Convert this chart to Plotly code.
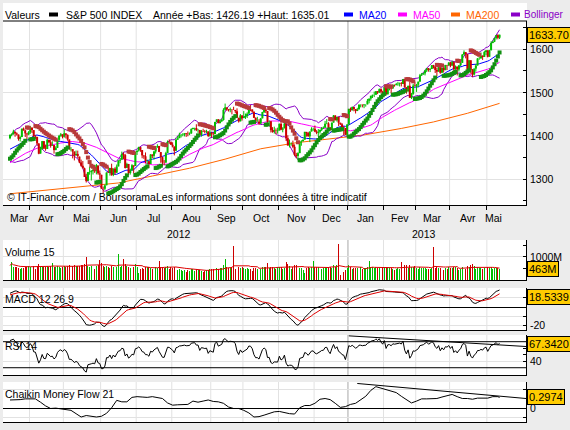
import pandas as pd
import numpy as np
import plotly.graph_objects as go

# ---------------------------------------------------------------- data
HOLIDAYS = ["2011-12-26", "2012-01-02", "2012-01-16", "2012-02-20", "2012-04-06",
            "2012-05-28", "2012-07-04", "2012-09-03", "2012-10-29", "2012-10-30",
            "2012-11-22", "2012-12-25", "2013-01-01", "2013-01-21", "2013-02-18",
            "2013-03-29"]
WARMUP_START = "2011-12-15"
DISPLAY_START = "2012-03-15"
LAST_DAY = "2013-05-10"

# closes before the displayed window (used only for the moving averages / MACD / RSI)
close_warmup = [
    1215.8, 1219.7, 1205.4, 1241.3, 1243.7, 1254.0, 1265.3, 1265.4, 1249.6, 1263.0, 1257.6,
    1277.1, 1277.3, 1281.1, 1277.8, 1280.7, 1292.1, 1292.5, 1295.5, 1289.1, 1293.7, 1308.0,
    1314.5, 1315.4, 1316.0, 1314.7, 1326.1, 1318.4, 1316.3, 1313.0, 1312.4,
    1324.1, 1325.5, 1344.9, 1344.3, 1347.1, 1350.0, 1352.0, 1342.6, 1351.8, 1350.5, 1343.2,
    1358.0, 1361.2, 1362.2, 1357.7, 1363.5, 1365.7, 1367.6, 1372.2, 1365.7,
    1374.1, 1369.6, 1364.3, 1343.4, 1352.6, 1365.9, 1370.9, 1371.1, 1396.0, 1394.3]

close = [
    # Mar 2012
    1402.6, 1404.2, 1409.8, 1405.5, 1402.9, 1392.8, 1397.1, 1416.5, 1412.5, 1405.5, 1403.3, 1408.5,
    # Apr
    1419.0, 1413.4, 1399.0, 1398.1, 1382.2, 1358.6, 1368.7, 1387.6, 1370.3, 1369.6, 1390.8, 1385.1,
    1376.9, 1378.5, 1366.9, 1372.0, 1390.7, 1400.0, 1403.4, 1397.9,
    # May
    1405.8, 1402.3, 1391.6, 1369.1, 1369.6, 1363.7, 1354.6, 1358.0, 1353.4, 1338.4, 1330.7, 1324.8,
    1304.9, 1295.2, 1316.0, 1316.6, 1318.9, 1320.7, 1317.8, 1332.4, 1313.3, 1310.3,
    # Jun
    1278.0, 1278.2, 1285.5, 1315.1, 1315.0, 1325.7, 1308.9, 1324.2, 1314.9, 1329.1, 1342.8, 1344.8,
    1358.0, 1355.7, 1325.5, 1335.0, 1313.7, 1320.0, 1331.9, 1329.0, 1362.2,
    # Jul
    1365.5, 1374.0, 1367.6, 1354.7, 1352.5, 1341.5, 1341.5, 1334.8, 1356.8, 1353.6, 1363.7, 1372.8,
    1376.5, 1362.7, 1350.5, 1338.3, 1337.9, 1360.0, 1386.0, 1385.3, 1379.3,
    # Aug
    1375.3, 1365.0, 1391.0, 1394.2, 1401.4, 1402.2, 1402.8, 1405.9, 1404.1, 1403.9, 1405.5, 1415.5,
    1418.2, 1418.1, 1413.2, 1413.5, 1402.1, 1411.1, 1410.4, 1409.3, 1410.5, 1399.5, 1406.6,
    # Sep
    1404.9, 1403.4, 1432.1, 1437.9, 1429.1, 1433.6, 1436.6, 1460.0, 1465.8, 1461.2, 1459.3, 1461.1,
    1460.3, 1460.2, 1456.9, 1441.6, 1433.3, 1447.2, 1440.7,
    # Oct
    1444.5, 1445.8, 1451.0, 1461.4, 1460.9, 1455.9, 1441.5, 1432.6, 1432.8, 1428.6, 1440.1, 1454.9,
    1460.9, 1457.3, 1433.2, 1433.8, 1413.1, 1408.8, 1413.0, 1411.9, 1412.2,
    # Nov
    1427.6, 1414.2, 1417.3, 1428.4, 1394.5, 1377.5, 1379.9, 1380.0, 1374.5, 1355.5, 1353.3, 1359.9,
    1386.9, 1387.8, 1391.0, 1409.2, 1406.3, 1398.9, 1409.9, 1416.0, 1416.2,
    # Dec
    1409.5, 1407.1, 1409.3, 1413.9, 1418.1, 1418.6, 1427.8, 1428.5, 1419.5, 1413.6, 1430.4, 1446.8,
    1435.8, 1443.7, 1430.2, 1426.7, 1419.8, 1418.1, 1402.4, 1426.2,
    # Jan 2013
    1462.4, 1459.4, 1466.5, 1461.9, 1457.2, 1461.0, 1472.1, 1472.1, 1470.7, 1472.3, 1472.6, 1480.9,
    1486.0, 1492.6, 1494.8, 1494.8, 1503.0, 1500.2, 1507.8, 1502.0, 1498.1,
    # Feb
    1513.2, 1495.7, 1511.3, 1512.1, 1509.4, 1517.9, 1517.0, 1519.4, 1520.3, 1521.4, 1519.8, 1530.9,
    1512.0, 1502.4, 1515.6, 1487.9, 1496.9, 1516.0, 1514.7,
    # Mar
    1518.2, 1525.2, 1539.8, 1541.5, 1544.3, 1551.2, 1556.2, 1552.5, 1554.5, 1563.2, 1560.7, 1552.1,
    1548.3, 1558.7, 1545.8, 1556.9, 1551.7, 1563.8, 1562.9, 1569.2,
    # Apr
    1562.2, 1570.3, 1553.7, 1560.0, 1553.3, 1563.1, 1568.6, 1587.7, 1593.4, 1588.9, 1552.4, 1574.6,
    1552.0, 1541.6, 1555.3, 1562.5, 1578.8, 1578.8, 1585.2, 1582.2, 1593.6, 1597.6,
    # May
    1582.7, 1597.6, 1614.4, 1617.5, 1626.0, 1632.7, 1626.7, 1633.7]

open_ = [
    1394.3, 1402.6, 1404.2, 1409.6, 1405.5, 1402.9, 1392.8, 1397.1, 1416.6, 1412.5, 1405.4, 1403.3,
    1408.5, 1419.0, 1413.1, 1399.0, 1397.5, 1382.2, 1358.9, 1368.8, 1387.6, 1370.3, 1369.6, 1390.8,
    1385.1, 1376.9, 1378.5, 1366.9, 1372.1, 1390.6, 1400.2, 1403.3,
    1397.9, 1405.5, 1402.3, 1391.5, 1368.8, 1369.2, 1363.7, 1354.6, 1358.1, 1351.9, 1338.4, 1330.8,
    1324.8, 1305.1, 1295.7, 1316.0, 1316.0, 1318.7, 1320.7, 1318.9, 1331.3, 1313.1,
    1309.9, 1278.3, 1277.6, 1285.6, 1316.2, 1314.6, 1325.7, 1309.4, 1324.0, 1314.9, 1329.2, 1342.4,
    1344.8, 1357.9, 1355.4, 1325.9, 1334.9, 1314.1, 1320.0, 1331.5, 1330.1,
    1362.3, 1365.8, 1373.7, 1367.1, 1354.7, 1352.6, 1341.4, 1341.3, 1334.8, 1356.5, 1353.7, 1363.7,
    1373.0, 1376.5, 1362.3, 1350.5, 1338.4, 1338.0, 1360.1, 1385.9, 1385.3,
    1379.3, 1375.1, 1365.5, 1391.0, 1394.5, 1401.4, 1402.3, 1402.6, 1405.9, 1404.4, 1403.9, 1405.8,
    1415.8, 1418.1, 1418.1, 1413.1, 1413.5, 1401.9, 1411.1, 1410.4, 1409.3, 1410.1, 1400.1,
    1406.5, 1404.9, 1403.7, 1432.1, 1437.9, 1429.1, 1433.6, 1436.6, 1460.1, 1465.4, 1461.2, 1459.5,
    1461.1, 1460.3, 1459.8, 1457.0, 1441.6, 1433.4, 1447.1,
    1440.9, 1444.0, 1446.0, 1451.1, 1461.4, 1460.9, 1455.9, 1441.5, 1432.8, 1432.8, 1428.8, 1440.3,
    1454.2, 1460.9, 1457.3, 1433.2, 1433.7, 1413.2, 1409.7, 1412.6, 1410.9,
    1412.2, 1427.6, 1414.0, 1417.3, 1428.3, 1394.5, 1377.6, 1379.9, 1380.0, 1374.6, 1355.4, 1353.4,
    1359.9, 1386.8, 1387.8, 1391.0, 1409.0, 1406.3, 1398.8, 1410.0, 1416.0,
    1416.3, 1409.5, 1407.1, 1409.4, 1413.9, 1418.1, 1418.6, 1427.8, 1428.5, 1419.5, 1413.5, 1430.5,
    1446.8, 1435.8, 1443.7, 1430.2, 1426.7, 1419.8, 1418.1, 1402.4,
    1426.2, 1462.4, 1459.4, 1466.5, 1461.9, 1457.2, 1461.0, 1472.1, 1472.1, 1470.7, 1472.3, 1472.6,
    1480.9, 1486.0, 1492.6, 1494.8, 1494.8, 1503.0, 1500.2, 1507.8, 1502.0,
    1498.1, 1513.2, 1495.7, 1511.3, 1512.1, 1509.4, 1517.9, 1517.0, 1519.4, 1520.3, 1521.4, 1519.8,
    1530.9, 1512.0, 1502.4, 1515.6, 1487.9, 1496.9, 1516.0,
    1514.7, 1518.2, 1525.2, 1539.8, 1541.5, 1544.3, 1551.2, 1556.2, 1552.5, 1554.5, 1563.2, 1560.7,
    1552.1, 1548.3, 1558.7, 1545.8, 1556.9, 1551.7, 1563.8, 1562.9,
    1569.2, 1562.2, 1570.3, 1553.7, 1560.0, 1553.3, 1563.1, 1568.6, 1587.7, 1593.4, 1588.9, 1552.4,
    1574.6, 1552.0, 1541.6, 1555.3, 1562.5, 1578.8, 1578.8, 1585.2, 1582.2, 1593.6,
    1597.6, 1582.7, 1597.6, 1614.4, 1617.5, 1626.0, 1632.7, 1626.7]

high = [
    1402.8, 1405.9, 1414.0, 1409.6, 1407.8, 1402.9, 1399.2, 1416.6, 1419.2, 1413.7, 1405.4, 1410.9,
    1422.4, 1419.0, 1413.1, 1401.6, 1397.5, 1383.0, 1374.7, 1388.1, 1387.6, 1379.7, 1392.8, 1390.8,
    1390.2, 1387.4, 1378.5, 1375.6, 1391.4, 1402.1, 1406.6, 1403.3,
    1415.3, 1405.5, 1403.1, 1391.5, 1373.9, 1369.2, 1363.7, 1365.9, 1365.7, 1351.9, 1344.9, 1341.8,
    1326.4, 1312.2, 1316.4, 1328.5, 1320.7, 1324.1, 1324.1, 1334.9, 1331.3, 1319.7,
    1309.9, 1282.6, 1287.6, 1315.3, 1329.0, 1325.8, 1335.5, 1324.3, 1327.3, 1333.7, 1343.3, 1348.2,
    1363.5, 1361.6, 1358.3, 1337.8, 1334.9, 1324.2, 1334.4, 1331.5, 1362.2,
    1366.4, 1374.8, 1373.9, 1367.1, 1354.7, 1361.5, 1345.0, 1341.3, 1357.7, 1357.3, 1365.4, 1375.3,
    1380.4, 1376.5, 1362.3, 1351.5, 1343.9, 1363.1, 1389.2, 1391.7, 1387.2,
    1385.0, 1375.3, 1394.2, 1399.6, 1407.1, 1404.1, 1405.9, 1405.9, 1405.9, 1410.0, 1407.7, 1417.4,
    1418.7, 1418.7, 1426.7, 1416.1, 1413.5, 1413.5, 1416.2, 1413.6, 1413.9, 1410.1, 1413.1,
    1409.3, 1408.8, 1432.1, 1437.9, 1438.7, 1437.8, 1439.2, 1463.8, 1474.5, 1465.6, 1461.5, 1465.2,
    1461.1, 1467.1, 1459.8, 1463.5, 1441.6, 1450.2, 1447.1,
    1457.1, 1451.5, 1454.3, 1463.1, 1470.9, 1460.9, 1455.9, 1442.5, 1443.9, 1438.4, 1441.3, 1455.5,
    1462.8, 1464.0, 1457.3, 1435.5, 1433.7, 1420.0, 1421.1, 1417.1, 1418.8,
    1428.4, 1434.3, 1419.9, 1433.4, 1428.3, 1401.2, 1391.4, 1384.9, 1388.8, 1380.1, 1360.6, 1362.0,
    1386.9, 1389.8, 1391.3, 1409.2, 1409.0, 1409.0, 1410.0, 1419.7, 1418.9,
    1423.7, 1413.1, 1415.6, 1413.9, 1420.3, 1421.6, 1434.3, 1438.6, 1431.4, 1419.5, 1430.7, 1448.0,
    1447.8, 1443.7, 1443.7, 1430.2, 1429.4, 1422.8, 1418.1, 1426.7,
    1462.4, 1465.5, 1467.9, 1466.5, 1461.9, 1464.7, 1472.3, 1472.8, 1472.1, 1473.3, 1473.0, 1485.2,
    1486.0, 1492.6, 1495.0, 1502.3, 1503.3, 1503.2, 1509.4, 1509.9, 1504.2,
    1514.4, 1513.2, 1514.0, 1512.5, 1512.9, 1518.3, 1518.3, 1522.3, 1524.7, 1523.1, 1524.2, 1530.9,
    1530.9, 1512.0, 1515.6, 1525.8, 1498.9, 1520.1, 1525.3,
    1519.9, 1525.3, 1543.1, 1545.3, 1545.8, 1552.5, 1556.3, 1556.8, 1556.4, 1563.3, 1564.0, 1560.7,
    1557.3, 1561.6, 1558.7, 1557.7, 1564.9, 1563.9, 1563.8, 1570.3,
    1570.6, 1573.7, 1571.5, 1562.6, 1560.0, 1563.1, 1573.9, 1589.1, 1597.4, 1593.4, 1588.9, 1575.4,
    1574.6, 1554.4, 1555.9, 1565.6, 1579.6, 1583.0, 1592.6, 1585.8, 1596.7, 1597.6,
    1597.6, 1598.6, 1618.5, 1619.8, 1626.0, 1632.8, 1635.0, 1633.7]

low = [
    1392.0, 1398.8, 1402.4, 1397.7, 1400.6, 1388.7, 1386.9, 1397.1, 1411.9, 1397.2, 1391.6, 1401.4,
    1404.5, 1406.4, 1394.1, 1392.9, 1378.2, 1357.4, 1358.9, 1368.8, 1369.9, 1365.4, 1369.6, 1383.3,
    1372.6, 1376.9, 1358.8, 1366.8, 1372.1, 1387.2, 1397.8, 1394.0,
    1395.7, 1393.9, 1388.7, 1367.9, 1363.9, 1347.8, 1343.1, 1354.6, 1348.9, 1336.6, 1328.5, 1324.8,
    1304.9, 1291.9, 1295.7, 1310.0, 1296.5, 1310.5, 1314.2, 1310.8, 1310.1, 1298.9,
    1277.3, 1266.7, 1274.7, 1285.6, 1314.6, 1307.8, 1307.7, 1306.6, 1310.5, 1314.1, 1329.2, 1336.6,
    1344.8, 1346.5, 1324.4, 1325.9, 1309.3, 1310.3, 1320.0, 1313.3, 1330.1,
    1355.7, 1363.5, 1363.0, 1348.0, 1346.7, 1336.3, 1333.2, 1325.4, 1334.8, 1348.5, 1345.1, 1358.9,
    1372.6, 1362.2, 1337.6, 1329.2, 1331.5, 1338.0, 1360.1, 1381.4, 1379.2,
    1373.1, 1354.7, 1365.5, 1391.0, 1394.5, 1396.1, 1398.8, 1398.5, 1397.3, 1398.8, 1401.6, 1404.2,
    1414.7, 1412.1, 1410.9, 1406.8, 1400.5, 1398.0, 1409.1, 1405.6, 1406.6, 1397.0, 1398.0,
    1396.6, 1401.3, 1403.7, 1431.4, 1429.1, 1429.1, 1432.0, 1435.1, 1460.1, 1457.6, 1456.1, 1454.3,
    1449.5, 1459.5, 1452.1, 1441.6, 1430.5, 1433.4, 1435.2,
    1440.9, 1439.0, 1441.0, 1451.1, 1456.9, 1453.1, 1441.2, 1430.6, 1432.2, 1425.5, 1427.2, 1440.3,
    1453.2, 1452.6, 1429.9, 1422.6, 1407.6, 1407.1, 1405.1, 1403.3, 1405.0,
    1412.2, 1412.9, 1408.1, 1417.3, 1388.1, 1377.5, 1373.0, 1377.2, 1371.4, 1352.6, 1348.1, 1343.4,
    1359.9, 1377.0, 1386.4, 1391.0, 1398.0, 1397.7, 1385.4, 1410.0, 1411.6,
    1408.5, 1403.6, 1398.2, 1405.0, 1410.9, 1415.6, 1418.6, 1426.8, 1416.0, 1411.9, 1413.5, 1430.5,
    1435.8, 1432.8, 1422.6, 1424.7, 1416.4, 1401.8, 1401.6, 1398.1,
    1426.2, 1455.5, 1458.0, 1456.6, 1451.6, 1457.2, 1461.0, 1465.7, 1465.7, 1463.8, 1467.4, 1472.6,
    1475.1, 1481.2, 1487.4, 1489.5, 1494.8, 1496.3, 1498.9, 1498.3, 1496.8,
    1498.1, 1495.0, 1495.7, 1505.0, 1498.5, 1509.4, 1513.6, 1517.0, 1515.6, 1514.0, 1514.1, 1519.8,
    1511.4, 1497.3, 1502.4, 1487.9, 1485.0, 1494.9, 1514.5,
    1501.5, 1512.3, 1525.2, 1538.1, 1541.5, 1539.6, 1547.4, 1548.2, 1547.4, 1554.5, 1555.5, 1545.1,
    1538.6, 1548.3, 1543.4, 1545.8, 1546.2, 1551.7, 1551.9, 1561.1,
    1558.5, 1562.2, 1549.8, 1552.5, 1539.5, 1548.6, 1560.9, 1568.6, 1586.2, 1579.0, 1552.3, 1552.4,
    1543.7, 1536.0, 1539.4, 1548.2, 1562.5, 1575.8, 1578.8, 1575.4, 1582.2, 1586.5,
    1581.3, 1582.7, 1597.6, 1614.2, 1616.6, 1622.7, 1623.1, 1623.7]

volume_m = [
    620, 790, 560, 540, 570, 530, 490, 520, 510, 580, 540, 610,
    560, 590, 620, 480, 590, 700, 620, 600, 560, 580, 610, 570, 600, 720, 560, 540, 600, 560, 520, 560,
    600, 560, 590, 650, 560, 620, 640, 600, 590, 620, 640, 660, 700, 980, 620, 580, 600, 560, 480, 620, 640, 860,
    740, 620, 560, 620, 540, 520, 600, 560, 580, 560, 1100, 560, 620, 920, 700, 600, 560, 520, 540, 560, 700,
    560, 300, 480, 500, 480, 560, 540, 580, 520, 480, 540, 560, 520, 820, 520, 560, 520, 580, 620, 480, 560,
    520, 560, 540, 420, 480, 440, 400, 420, 360, 420, 400, 460, 480, 380, 460, 420, 440, 400, 360, 380, 420, 450, 480,
    480, 460, 580, 520, 470, 500, 520, 660, 900, 560, 500, 520, 540, 1460, 480, 560, 580, 520, 560,
    520, 480, 500, 460, 480, 400, 520, 520, 480, 500, 480, 560, 580, 560, 730, 520, 560, 560, 520, 480, 560,
    560, 540, 480, 520, 760, 700, 600, 480, 560, 640, 660, 720, 520, 500, 440, 280, 520, 560, 520, 540, 800,
    540, 540, 580, 520, 480, 500, 560, 580, 540, 560, 520, 640, 560, 640, 1550, 220, 340, 360, 420, 520,
    640, 560, 480, 500, 500, 520, 560, 540, 480, 500, 520, 560, 820, 560, 540, 520, 560, 500, 500, 540, 560,
    560, 580, 560, 520, 520, 480, 440, 480, 500, 480, 780, 520, 640, 640, 520, 660, 560, 540, 620,
    520, 480, 540, 520, 500, 520, 460, 480, 460, 500, 1440, 520, 540, 500, 520, 460, 440, 500, 480, 560,
    520, 500, 560, 540, 520, 440, 460, 560, 500, 480, 620, 560, 640, 680, 600, 480, 560, 520, 520, 480, 500, 540,
    540, 520, 560, 460, 500, 520, 500, 463]

# 200-day average
ma200_dates = ["2012-03-15", "2012-04-16", "2012-05-15", "2012-06-15", "2012-07-16", "2012-08-15",
               "2012-09-14", "2012-10-15", "2012-11-15", "2012-12-14", "2013-01-15", "2013-02-15",
               "2013-03-15", "2013-04-15", "2013-05-10"]
ma200_values = [1266, 1274, 1281, 1291, 1307, 1325, 1346, 1370, 1384, 1393, 1402, 1417, 1432, 1452, 1475]

# Chaikin Money Flow 21, every 3rd session
cmf_every3 = [
    0.23, 0.23, 0.24, 0.26, 0.27, 0.26, 0.17, 0.07, 0.00, 0.01, -0.01, -0.03, -0.05, -0.14, -0.23,
    -0.19, -0.20, -0.23, -0.21, -0.13, 0.02, 0.22, 0.18, 0.18, 0.30, 0.32, 0.31, 0.30, 0.32, 0.29,
    0.27, 0.15, 0.09, 0.10, 0.11, 0.11, 0.20, 0.17, 0.20, 0.23, 0.19, 0.18, 0.14, 0.04, 0.00,
    0.00, -0.05, -0.12, -0.23, -0.22, -0.18, -0.14, -0.09, -0.08, -0.12, -0.14, -0.15, 0.02, 0.08, 0.08,
    0.14, 0.25, 0.27, 0.24, 0.14, 0.03, 0.05, 0.11, 0.14, 0.24, 0.33, 0.49, 0.59, 0.55, 0.51,
    0.47, 0.43, 0.33, 0.24, 0.15, 0.20, 0.26, 0.26, 0.26, 0.27, 0.31, 0.34, 0.38, 0.32, 0.27,
    0.27, 0.25, 0.28, 0.28, 0.28, 0.32, 0.32]
cmf_last = 0.2974

# hand-drawn trend lines: (start date, start value), value at right edge
rsi_trend = (("2013-01-02", 79.0), 62.6)
cmf_trend = (("2013-01-09", 0.676), 0.27)

MONTHS_FR = {1: "Jan", 2: "Fev", 3: "Mar", 4: "Avr", 5: "Mai", 6: "Jun", 7: "Jul", 8: "Aou",
             9: "Sep", 10: "Oct", 11: "Nov", 12: "Dec"}

# ---------------------------------------------------------------- dates / checks
all_days = [d for d in pd.bdate_range(WARMUP_START, LAST_DAY) if d.strftime("%Y-%m-%d") not in HOLIDAYS]
NW = len(close_warmup)
assert all_days[NW] == pd.Timestamp(DISPLAY_START), (all_days[NW], NW)
dates = all_days[NW:]
N = len(dates)
for nm, arr in [("close", close), ("open", open_), ("high", high), ("low", low), ("vol", volume_m)]:
    assert len(arr) == N, (nm, len(arr), N)
assert len(cmf_every3) == len(range(0, N, 3)), len(cmf_every3)
date_idx = {d.strftime("%Y-%m-%d"): i for i, d in enumerate(dates)}
xi = list(range(N))

# ---------------------------------------------------------------- indicators
c_all = pd.Series(close_warmup + close, dtype=float)
ma20 = c_all.rolling(20).mean().iloc[NW:].tolist()
ma50 = c_all.rolling(50).mean().iloc[NW:].tolist()
sd20 = c_all.rolling(20).std(ddof=0).iloc[NW:].tolist()
bb_up = [m + 2 * s for m, s in zip(ma20, sd20)]
bb_dn = [m - 2 * s for m, s in zip(ma20, sd20)]
ema12 = c_all.ewm(span=12, adjust=False).mean()
ema26 = c_all.ewm(span=26, adjust=False).mean()
macd_s = ema12 - ema26
sig_s = macd_s.ewm(span=9, adjust=False).mean()
macd = macd_s.iloc[NW:].tolist()
sig = sig_s.iloc[NW:].tolist()
d = c_all.diff()
ag = d.clip(lower=0).ewm(alpha=1 / 14, adjust=False).mean()
al = (-d.clip(upper=0)).ewm(alpha=1 / 14, adjust=False).mean()
rsi = (100 - 100 / (1 + ag / al)).iloc[NW:].tolist()
vol_ma = pd.Series(volume_m, dtype=float).rolling(15, min_periods=1).mean().tolist()


def psar(h, l, sar0, af0=0.02, afmax=0.2):
    bull, af, ep, prev = True, 0.06, h[0], sar0
    out, trend = [], []
    for i in range(len(h)):
        s = prev + af * (ep - prev)
        if bull:
            if i > 0:
                s = min(s, l[i - 1], l[i - 2] if i > 1 else l[i - 1])
            if l[i] < s:
                bull, s, ep, af = False, ep, l[i], af0
            elif h[i] > ep:
                ep, af = h[i], min(af + af0, afmax)
        else:
            s = max(s, h[i - 1], h[i - 2] if i > 1 else h[i - 1])
            if h[i] > s:
                bull, s, ep, af = True, ep, h[i], af0
            elif l[i] < ep:
                ep, af = l[i], min(af + af0, afmax)
        out.append(s)
        trend.append(bull)
        prev = s
    return out, trend


sar, sar_up = psar(high, low, min(close_warmup[-8:]))

# ---------------------------------------------------------------- geometry
W, H = 570, 430
def P(x): return x / W
def Q(y): return 1 - y / H

X_L, X_R = 3, 526
XMIN, XMAX = -4.13, N - 1 + 15.6
PANELS = {  # pixel top/bottom of each panel
    1: (21, 205), 2: (240, 280), 3: (288, 330), 4: (335, 375), 5: (382, 422)}
YR = {1: [1240, 1665.4], 2: [0, 1720], 3: [-25, 20.65], 4: [18.8, 80.3], 5: [-0.365, 0.716]}

FONT = "Arial, 'Liberation Sans', sans-serif"
GREEN, RED = "#00BE00", "#CC0000"
GRID = "#E2E2E2"

fig = go.Figure()

# --- main panel lines
fig.add_trace(go.Scatter(x=[date_idx[s] for s in ma200_dates], y=ma200_values, mode="lines",
                         line=dict(color="#FF6600", width=1), xaxis="x", yaxis="y"))
for yy in (bb_up, bb_dn):
    fig.add_trace(go.Scatter(x=xi, y=yy, mode="lines", line=dict(color="#8A00C8", width=1),
                             xaxis="x", yaxis="y"))
fig.add_trace(go.Scatter(x=xi, y=ma50, mode="lines", line=dict(color="#FF00FF", width=1), xaxis="x", yaxis="y"))
fig.add_trace(go.Scatter(x=xi, y=ma20, mode="lines", line=dict(color="#0000FF", width=1), xaxis="x", yaxis="y"))

# --- price bars
up_i = [i for i in xi if close[i] >= open_[i]]
dn_i = [i for i in xi if close[i] < open_[i]]
def segs(idx, a, b):
    xs, ys = [], []
    for i in idx:
        xs += [i, i, None]
        ys += [a[i], b[i], None]
    return xs, ys
for idx, col in ((up_i, GREEN), (dn_i, RED)):
    xs, ys = segs(idx, low, high)
    fig.add_trace(go.Scatter(x=xs, y=ys, mode="lines", line=dict(color=col, width=1), xaxis="x", yaxis="y"))
    xs, ys = segs(idx, open_, close)
    fig.add_trace(go.Scatter(x=xs, y=ys, mode="lines", line=dict(color=col, width=2), xaxis="x", yaxis="y"))

# --- parabolic SAR
fig.add_trace(go.Scatter(x=xi, y=sar, mode="markers", xaxis="x", yaxis="y",
                         marker=dict(symbol="square", size=4, line=dict(width=0),
                                     color=["#129012" if u else "#B83A3A" for u in sar_up])))

# --- volume
fig.add_trace(go.Bar(x=xi, y=volume_m, width=0.55, xaxis="x2", yaxis="y2",
                     marker=dict(color=[GREEN if close[i] >= open_[i] else RED for i in xi], line=dict(width=0))))
fig.add_trace(go.Scatter(x=xi, y=vol_ma, mode="lines", line=dict(color="#DD0000", width=1), xaxis="x2", yaxis="y2"))

# --- MACD
fig.add_trace(go.Scatter(x=xi, y=macd, mode="lines", line=dict(color="black", width=1), xaxis="x3", yaxis="y3"))
fig.add_trace(go.Scatter(x=xi, y=sig, mode="lines", line=dict(color="#DD0000", width=1), xaxis="x3", yaxis="y3"))

# --- RSI
fig.add_trace(go.Scatter(x=xi, y=rsi, mode="lines", line=dict(color="black", width=1), xaxis="x4", yaxis="y4"))

# --- CMF
cmf_x = list(range(0, N, 3)) + [N - 1]
cmf_y = cmf_every3 + [cmf_last]
fig.add_trace(go.Scatter(x=cmf_x, y=cmf_y, mode="lines", line=dict(color="black", width=1), xaxis="x5", yaxis="y5"))

# ---------------------------------------------------------------- axes
month_first = [i for i in xi if i == 0 or dates[i].month != dates[i - 1].month]
bounds = [i - 0.5 for i in month_first if i > 0]
year_bound = [i - 0.5 for i in month_first if i > 0 and dates[i].year != dates[i - 1].year]

layout = dict(width=W, height=H, margin=dict(l=0, r=0, t=0, b=0), paper_bgcolor="#ECECEC",
              plot_bgcolor="rgba(0,0,0,0)", showlegend=False, bargap=0,
              font=dict(family=FONT, size=10, color="black"))
ytick = {1: dict(tickvals=[1300, 1400, 1500, 1600], minor=[1250, 1350, 1450, 1550, 1650]),
         2: dict(tickvals=[1000], minor=[500, 1500]),
         3: dict(tickvals=[-20, -10, 10, 20], minor=[]),
         4: dict(tickvals=[40], minor=[50, 60]),
         5: dict(tickvals=[-0.25, 0.5], minor=[])}
for k, (t, b) in PANELS.items():
    sx = "" if k == 1 else str(k)
    xa = dict(domain=[P(X_L), P(X_R)], range=[XMIN, XMAX], anchor="y" + sx, showgrid=False,
              zeroline=False, showline=True, linecolor="black", linewidth=1, showticklabels=False,
              ticks="", fixedrange=True)
    if k == 1:
        xa.update(tickmode="array", tickvals=bounds, ticks="outside", ticklen=4, tickcolor="black")
    else:
        xa["matches"] = "x"
    layout["xaxis" + sx] = xa
    ya = dict(domain=[Q(b), Q(t)], range=YR[k], anchor="x" + sx, side="right", showline=True,
              linecolor="black", linewidth=1, ticks="inside", ticklen=3, tickcolor="black",
              showticklabels=False, tickmode="array", tickvals=ytick[k]["tickvals"],
              showgrid=True, gridcolor=GRID, gridwidth=1, zeroline=False, fixedrange=True,
              minor=dict(tickmode="array", tickvals=ytick[k]["minor"], ticks="inside", ticklen=3,
                         tickcolor="black", showgrid=False))
    if k in (3, 5):
        ya.update(zeroline=True, zerolinecolor="black", zerolinewidth=1)
    layout["yaxis" + sx] = ya

# ---------------------------------------------------------------- shapes
shapes = []
# white backgrounds
shapes.append(dict(type="rect", xref="paper", yref="paper", x0=P(3), x1=P(527), y0=Q(21), y1=Q(3),
                   fillcolor="white", line=dict(width=0), layer="below"))
for k, (t, b) in PANELS.items():
    shapes.append(dict(type="rect", xref="paper", yref="paper", x0=P(X_L), x1=P(X_R), y0=Q(b), y1=Q(t),
                       fillcolor="white", line=dict(width=0), layer="below"))
# vertical month grid
for k, (t, b) in PANELS.items():
    for bx in bounds:
        col = "#A8A8A8" if bx in year_bound else GRID
        shapes.append(dict(type="line", xref="x", yref="paper", x0=bx, x1=bx, y0=Q(b), y1=Q(t),
                           line=dict(color=col, width=1), layer="below"))
# top border of main panel
shapes.append(dict(type="line", xref="paper", yref="paper", x0=P(3), x1=P(527), y0=Q(21), y1=Q(21),
                   line=dict(color="black", width=1)))
# RSI 70 / 30
for lv in (70, 30):
    shapes.append(dict(type="line", xref="paper", yref="y4", x0=P(X_L), x1=P(X_R), y0=lv, y1=lv,
                       line=dict(color="black", width=1)))
# trend lines
for (st, ev), ax in ((rsi_trend, "4"), (cmf_trend, "5")):
    shapes.append(dict(type="line", xref="x" + ax, yref="y" + ax, x0=date_idx[st[0]], y0=st[1],
                       x1=XMAX, y1=ev, line=dict(color="black", width=1)))
# header legend swatches
for x0, col in ((49, "black"), (344, "#0000FF"), (398, "#FF00FF"), (451, "#FF6600"), (511, "#8A00C8")):
    shapes.append(dict(type="rect", xref="paper", yref="paper", x0=P(x0), x1=P(x0 + 9), y0=Q(16.5), y1=Q(12.5),
                       fillcolor=col, line=dict(width=0)))
layout["shapes"] = shapes

# ---------------------------------------------------------------- annotations
ann = []
def A(text, x, y, xref="paper", yref="paper", xanchor="left", color="black", size=10.5, **kw):
    ann.append(dict(text=text, x=x, y=y, xref=xref, yref=yref, xanchor=xanchor, yanchor="middle",
                    showarrow=False, font=dict(family=FONT, size=size, color=color), **kw))

HY = 14.5
A("Valeurs", P(3), Q(HY))
A("S&P 500 INDEX", P(64), Q(HY))
A("Année +Bas: 1426.19 +Haut: 1635.01", P(151), Q(HY))
A("MA20", P(357), Q(HY), color="#0000FF")
A("MA50", P(411), Q(HY), color="#FF00FF")
A("MA200", P(464), Q(HY), color="#FF6600")
A("Bollinger", P(522), Q(HY), color="#8A00C8", size=10)

A("© IT-Finance.com / BoursoramaLes informations sont données à titre indicatif", P(5), Q(197))
A("Volume 15", P(3), Q(252))
A("MACD 12 26 9", P(3), Q(299))
A("RSI 14", P(3), Q(346))
A("Chaikin Money Flow 21", P(3), Q(394))

# month / year labels
LABEL_END = N - 1 + 10.5
groups = {}
for i, dt in enumerate(dates):
    groups.setdefault((dt.year, dt.month), []).append(i)
for (yy, mm), ids in groups.items():
    lo = max(ids[0] - 0.5, XMIN)
    hi = min(ids[-1] + 0.5, LABEL_END)
    A(MONTHS_FR[mm], (lo + hi) / 2, Q(217.5), xref="x", xanchor="center")
years = {}
for i, dt in enumerate(dates):
    years.setdefault(dt.year, []).append(i)
for yy, ids in years.items():
    lo = max(ids[0] - 0.5, XMIN)
    hi = min(ids[-1] + 0.5, LABEL_END)
    A(str(yy), (lo + hi) / 2, Q(234), xref="x", xanchor="center")

# right axis labels
for v in (1300, 1400, 1500, 1600):
    A(str(v), P(528), v, yref="y", size=10.5)
A("1000M", P(528), 1000, yref="y2", size=10.5)
A("-20", P(528), -20, yref="y3", size=10.5)
A("40", P(528), 40, yref="y4", size=10.5)
A("0", P(528), 0, yref="y5", size=10.5)

# last-value boxes
def box(text, yval, yref, rng, half):
    lo, hi = rng
    yv = min(max(yval, lo + half), hi - half)
    A(text, P(527), yv, yref=yref, size=11, bgcolor="#FFCC00", bordercolor="black",
      borderwidth=1, borderpad=1)
box("%.2f" % close[-1], close[-1], "y", YR[1], 0)
box("%dM" % volume_m[-1], volume_m[-1], "y2", YR[2], 0)
box("%.4f" % macd[-1], macd[-1], "y3", YR[3], 8.5 * (YR[3][1] - YR[3][0]) / 42)
box("%.4f" % rsi[-1], rsi[-1], "y4", YR[4], 8.5 * (YR[4][1] - YR[4][0]) / 40)
box("%.4f" % cmf_last, cmf_last, "y5", YR[5], 0)
layout["annotations"] = ann

fig.update_layout(**layout)
fig.write_html("out.html", config={"displayModeBar": False, "staticPlot": True})
